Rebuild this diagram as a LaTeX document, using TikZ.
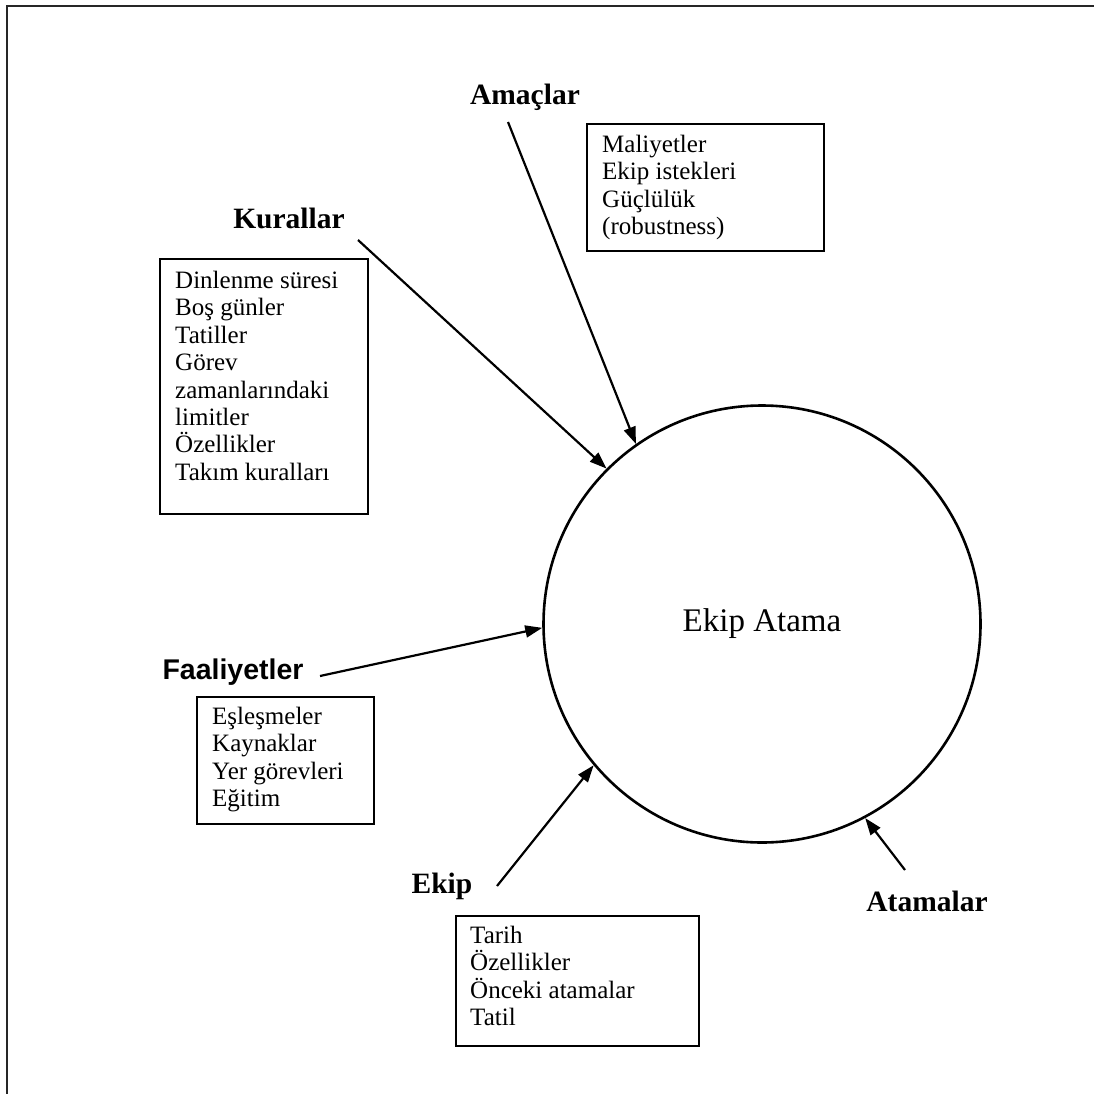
\documentclass[tikz,border=0pt]{standalone}
\usepackage{fontspec}
\setmainfont{Liberation Serif}
\newfontfamily\headsans{Liberation Sans}
\usetikzlibrary{arrows.meta}

\begin{document}
\begin{tikzpicture}[x=1pt,y=-1pt,
  frame/.style={line width=2.4pt, draw=black!85},
  panel/.style={draw, line width=2.4pt, inner sep=0pt, anchor=north west},
  items/.style={inner sep=0pt, anchor=north west, align=left,
    font=\fontsize{25}{27.4}\selectfont},
  heading/.style={inner sep=0pt, font=\fontsize{29.5}{34}\selectfont\bfseries},
  flow/.style={line width=2.2pt, -{Triangle[length=17pt,width=12pt]}},
]
\useasboundingbox (0,0) rectangle (1094,1094);
% open frame: top and left edges only
\draw[frame] (1094,6) -- (7,6) -- (7,1094);

% central process
\node[circle, draw, line width=2.6pt, minimum size=437pt, inner sep=0pt,
  font=\fontsize{33}{38}\selectfont] (core) at (762,624) {Ekip Atama};

% headings
\node[heading] (goals) at (525,97) {Amaçlar};
\node[heading] (rules) at (289,218) {Kurallar};
\node[heading, font=\fontsize{28.5}{32}\selectfont\headsans\bfseries] (acts) at (233,672) {Faaliyetler};
\node[heading] (crew) at (442,886) {Ekip};
\node[heading] (assign) at (927,901) {Atamalar};

% panels with their lists
\node[panel, minimum width=237pt, minimum height=127pt] (goalbox) at (586,123) {};
\node[items] (goallist) at (602,135) {Maliyetler\\Ekip istekleri\\Güçlülük\\(robustness)};

\node[panel, minimum width=208pt, minimum height=255pt] (rulebox) at (159,258) {};
\node[items] (rulelist) at (175,271) {Dinlenme süresi\\Boş günler\\Tatiller\\Görev\\zamanlarındaki\\limitler\\Özellikler\\Takım kuralları};

\node[panel, minimum width=177pt, minimum height=127pt] (actbox) at (196,696) {};
\node[items] (actlist) at (212,707) {Eşleşmeler\\Kaynaklar\\Yer görevleri\\Eğitim};

\node[panel, minimum width=243pt, minimum height=130pt] (crewbox) at (455,915) {};
\node[items] (crewlist) at (470,926) {Tarih\\Özellikler\\Önceki atamalar\\Tatil};

% arrows into the process
\coordinate (goalTail) at (508,122);
\coordinate (ruleTail) at (358,240);
\coordinate (actTail) at (320,676);
\coordinate (crewTail) at (497,886);
\coordinate (assignTail) at (905,870);
\draw[flow] (goalTail) -- (core.125.5);
\draw[flow] (ruleTail) -- (core.135.9);
\draw[flow] (actTail) -- (core.181.3);
\draw[flow] (crewTail) -- (core.220);
\draw[flow] (assignTail) -- (core.-62.4);
\end{tikzpicture}
\end{document}
